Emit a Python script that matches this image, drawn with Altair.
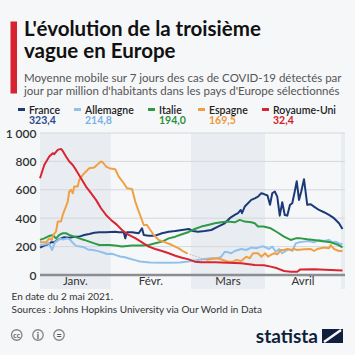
import altair as alt
import pandas as pd

# ---------------- data ----------------
pays = ["France", "Allemagne", "Italie", "Espagne", "Royaume-Uni"]
couleurs = ["#1d3a78", "#8fc1ea", "#2e9a45", "#f0a043", "#d9252f"]
couleurs_valeurs = ["#2a4b8d", "#7ab0e2", "#2e8f42", "#ec9a3e", "#d0202c"]
dernieres_valeurs = ["323,4", "214,8", "194,0", "169,5", "32,4"]

france_jours = [0, 1.7, 3.1, 4.4, 5.7, 7.1, 8.4, 9.7, 11.7, 13.7, 15.7, 17.7, 19.7, 21.7, 23.7, 26.4, 30.1,
                31.5, 33.5, 34.1, 34.8, 36.8, 39.5, 40.8, 41.5, 43.5, 46.1, 48.8, 51.5, 54.1, 56.8, 59.5,
                61.2, 63.2, 65.9, 68.5, 71.2, 73.9, 75.9, 77.9, 79.2, 80.3, 80.8, 81.9, 83.2, 84.5, 85.9,
                87.2, 88.5, 89.6, 91.0, 92.0, 92.9, 93.9, 94.9, 95.9, 96.9, 97.9, 98.9, 100.0, 100.9, 101.9,
                102.7, 103.6, 104.5, 105.6, 106.9, 108.3, 109.6, 111.6, 113.6, 115.6, 117.6, 119.6, 121]
france_cas = [193, 207, 216, 230, 230, 247, 258, 266, 263, 270, 270, 282, 289, 298, 301, 301, 305,
              301, 301, 258, 301, 301, 294, 329, 282, 277, 277, 294, 305, 310, 317, 324,
              310, 305, 310, 317, 341, 364, 400, 423, 435, 458, 435, 482, 505, 529, 540,
              552, 576, 570, 560, 494, 576, 588, 552, 418, 512, 423, 418, 494, 505, 588,
              660, 529, 588, 675, 494, 498, 482, 458, 442, 423, 400, 364, 323.4]

allemagne_jours = [0, 2, 3.6, 4.8, 6, 8, 9.2, 10.8, 12, 13.2, 14.4, 16, 17.6, 19.2, 21.2, 22.8, 24.8, 26.8,
                   28.8, 30.4, 32, 34, 36, 38, 40, 44, 50, 56, 59.2, 63.2, 65.9, 68.5, 71.2, 72.5, 73.9,
                   75.2, 76.5, 77.9, 80.5, 82.5, 84.5, 86.5, 88.5, 89.6, 91.6, 92.9, 94.3, 95.6, 96.9,
                   98.3, 99.6, 100.9, 102.3, 103.6, 105.6, 107.6, 109.6, 111.6, 113.6, 115.6, 116.9,
                   118.3, 119.6, 121]
allemagne_cas = [210, 215, 225, 176, 230, 255, 250, 258, 250, 225, 205, 200, 195, 180, 176, 170, 160, 148,
                 150, 140, 130, 125, 115, 105, 95, 88, 87, 88, 95, 106, 113, 118, 118, 129, 164,
                 160, 153, 169, 183, 176, 193, 188, 200, 200, 183, 200, 164, 183, 153,
                 169, 183, 169, 223, 230, 235, 240, 230, 247, 240, 247, 230,
                 235, 223, 214.8]

italie_jours = [0, 1.7, 3.7, 5.1, 6.4, 7.7, 9.1, 10.4, 11.7, 13.7, 15.7, 17.7, 19.7, 21.7, 23.7, 27.7, 30.1,
                32.8, 36.8, 40.8, 43.5, 46.1, 48.8, 51.5, 54.1, 56.8, 59.5, 61.9, 64.5, 67.2, 69.9, 72.5,
                75.2, 77.9, 79.9, 81.9, 84.5, 85.9, 87.2, 89.4, 92.3, 94.9, 97.6, 100.3, 102.3, 104.3,
                106.9, 109.6, 112.3, 116.3, 118.9, 121]
italie_cas = [247, 258, 275, 282, 258, 282, 294, 294, 282, 270, 258, 247, 235, 223, 211, 211, 207,
              200, 207, 207, 211, 223, 235, 258, 270, 287, 303, 324, 341, 352, 364, 371,
              376, 371, 388, 376, 371, 364, 341, 341, 329, 301, 270, 247, 258, 258,
              251, 247, 240, 230, 215, 194]

# Espagne : deux tronçons, séparés par une période sans données
espagne_jours_a = [0, 2.4, 3.7, 4.7, 5.3, 6.4, 7.1, 8.4, 9.1, 10.1, 11.1, 11.7, 12.4, 13.1, 13.7, 15.1,
                   15.7, 17.1, 18.4, 19.7, 21.7, 23.1, 24.4, 25.1, 26.4, 27.7, 30.1, 31.5, 33.5, 34.8,
                   36.8, 38.1, 39.5, 41.5, 42.8, 44.1, 45.5, 47.5, 50.1, 52.8, 55.5, 57.5, 58.8]
espagne_cas_a = [230, 230, 258, 247, 282, 305, 376, 376, 423, 470, 517, 588, 600, 576, 623, 623,
                 670, 705, 729, 752, 757, 780, 799, 794, 764, 752, 745, 693, 646, 611,
                 606, 517, 447, 352, 352, 317, 282, 247, 230, 211, 188, 164, 153]
espagne_jours_b = [66.5, 68.5, 71.2, 73.2, 75.2, 77.2, 78.5, 80.5, 82.5, 83.9, 85.2, 87.2, 88.5, 90.1,
                   91.2, 92.3, 93.6, 94.9, 96.3, 97.6, 98.9, 100.3, 101.6, 102.9, 105.6, 108.3, 109.6,
                   110.9, 113.6, 115.6, 116.3, 117.6, 119.6, 121]
espagne_cas_b = [106, 113, 118, 106, 94, 94, 106, 99, 129, 118, 153, 153, 129, 153,
                 129, 141, 153, 146, 176, 176, 183, 176, 183, 176, 181, 183, 169,
                 183, 193, 188, 211, 183, 169, 169.5]

ru_jours = [0, 1.7, 3.7, 5.1, 5.7, 7.1, 8.4, 9.1, 10.4, 11.7, 13.1, 14.4, 16.4, 18.4, 20.4, 22.4, 24.4,
            26.4, 28.4, 30.8, 32.8, 35.5, 38.1, 40.8, 43.5, 46.1, 48.8, 51.5, 54.1, 56.8, 59.5, 61.9,
            64.5, 69.9, 75.2, 80.5, 85.9, 89.6, 92.3, 94.9, 97.6, 100.3, 102.9, 104, 109.6, 116.3, 121]
ru_cas = [681, 775, 834, 858, 851, 881, 888, 874, 834, 799, 775, 740, 681, 623, 576, 529, 470,
          423, 388, 353, 317, 282, 259, 230, 200, 183, 169, 153, 136, 122, 110, 94,
          89, 89, 87, 82, 70, 68, 59, 47, 28, 23, 23, 38, 40, 35, 32.4]

mois = ["Janv.", "Févr.", "Mars", "Avril", ""]
mois_debut = [0, 28.3, 60.4, 90.0, 120.4]
mois_fin = [28.3, 60.4, 90.0, 120.4, 122]
mois_ombre = [True, False, True, False, True]

graduations = [0, 200, 400, 600, 800, 1000]

titre = ["L'évolution de la troisième", "vague en Europe"]
sous_titre = ["Moyenne mobile sur 7 jours des cas de COVID-19 détectés par",
              "jour par million d'habitants dans les pays d'Europe sélectionnés"]
note = "En date du 2 mai 2021."
sources = "Sources : Johns Hopkins University via Our World in Data"

# ---------------- tables ----------------
series = [
    ("France", "France", france_jours, france_cas),
    ("Allemagne", "Allemagne", allemagne_jours, allemagne_cas),
    ("Italie", "Italie", italie_jours, italie_cas),
    ("Espagne", "Espagne-a", espagne_jours_a, espagne_cas_a),
    ("Espagne", "Espagne-b", espagne_jours_b, espagne_cas_b),
    ("Royaume-Uni", "Royaume-Uni", ru_jours, ru_cas),
]
rows = []
for p, s, js, vs in series:
    for j, v in zip(js, vs):
        rows.append({"pays": p, "serie": s, "jour": j, "cas": v})
lignes = pd.DataFrame(rows)

trou = pd.DataFrame({"jour": [espagne_jours_a[-1], espagne_jours_b[0]],
                     "cas": [espagne_cas_a[-1], espagne_cas_b[0]]})

bandes = pd.DataFrame({"mois": mois, "debut": mois_debut, "fin": mois_fin, "ombre": mois_ombre})

FONT = "Lato"
W, H = 305, 142
xscale = alt.Scale(domain=[0, 122], nice=False, zero=False)
yscale = alt.Scale(domain=[0, 1000], nice=False)
X_NONE = dict(scale=xscale, axis=None)

layers = []

# month bands
layers.append(
    alt.Chart(bandes).transform_filter("datum.ombre").mark_rect(color="#e9edf2").encode(
        x=alt.X("debut:Q", **X_NONE), x2="fin:Q",
        y=alt.value(0), y2=alt.value(156))
)

# grid (rules) + y axis (styled through config)
layers.append(
    alt.Chart(pd.DataFrame({"v": graduations})).mark_rule(color="#d3d8df", strokeWidth=1).encode(
        y=alt.Y("v:Q", scale=yscale, title=None))
)

# baseline
layers.append(
    alt.Chart(pd.DataFrame({"v": [0]})).mark_rule(color="#8a8e94", strokeWidth=2.5).encode(
        y=alt.Y("v:Q", scale=yscale, title=None))
)

# month labels
layers.append(
    alt.Chart(bandes).transform_filter("datum.mois != ''").transform_calculate(
        centre="(datum.debut + datum.fin) / 2").mark_text(
        font=FONT, fontSize=11.5, color="#333333", baseline="alphabetic").encode(
        x=alt.X("centre:Q", **X_NONE), y=alt.value(152), text="mois:N")
)

# lines
layers.append(
    alt.Chart(lignes).mark_line(strokeWidth=2, strokeJoin="round").encode(
        x=alt.X("jour:Q", **X_NONE),
        y=alt.Y("cas:Q", scale=yscale, title=None),
        color=alt.Color("pays:N", scale=alt.Scale(domain=pays, range=couleurs), legend=None),
        detail="serie:N", order="jour:Q")
)
layers.append(
    alt.Chart(trou).mark_line(strokeWidth=1, strokeDash=[1, 2], color="#c9955a").encode(
        x=alt.X("jour:Q", **X_NONE), y=alt.Y("cas:Q", scale=yscale, title=None))
)


def txt(t, x, y, size, weight="normal", color="#222222", align="left", font=FONT):
    return alt.Chart(pd.DataFrame({"t": [t]})).mark_text(
        font=font, fontSize=size, fontWeight=weight, color=color, align=align,
        baseline="alphabetic").encode(x=alt.value(x), y=alt.value(y), text="t:N")


def rect(x, x2, y, y2, color):
    return alt.Chart(pd.DataFrame({"a": [0]})).mark_rect(color=color).encode(
        x=alt.value(x), x2=alt.value(x2), y=alt.value(y), y2=alt.value(y2))


# header
layers.append(rect(-29.5, -23, -111.5, -39.5, "#d7232f"))
layers.append(txt(titre[0], -16, -97, 20.5, "bold", "#111111"))
layers.append(txt(titre[1], -16, -75, 20.5, "bold", "#111111"))
layers.append(txt(sous_titre[0], -16, -51.5, 11.5, "normal", "#555555"))
layers.append(txt(sous_titre[1], -16, -38.5, 11.5, "normal", "#555555"))

# legend
legende_x = [-11, 45, 119, 169, 233]
for p, c, cv, val, lx in zip(pays, couleurs, couleurs_valeurs, dernieres_valeurs, legende_x):
    layers.append(rect(lx - 11, lx - 4, -25, -22, c))
    layers.append(txt(p, lx, -19.5, 10.5, 600, "#222222"))
    layers.append(txt(val, lx, -9, 10.5, "bold", cv))

# footer
layers.append(txt(note, -28.5, 167, 10, "normal", "#333333"))
layers.append(txt(sources, -28.5, 180, 10, "normal", "#333333"))

for cx, g in zip([-23.3, -2, 19], ["cc", "i", "="]):
    layers.append(alt.Chart(pd.DataFrame({"a": [0]})).mark_point(
        shape="circle", size=110, filled=False, color="#555555", strokeWidth=1.3).encode(
        x=alt.value(cx), y=alt.value(202)))
    layers.append(alt.Chart(pd.DataFrame({"t": [g]})).mark_text(
        font=FONT, fontSize=7 if g == "cc" else 9, fontWeight="bold", color="#555555",
        align="center", baseline="middle").encode(x=alt.value(cx), y=alt.value(202.5), text="t:N"))

layers.append(txt("statista", 278, 210, 19, "bold", "#0f1f3d", "right"))
layers.append(rect(282, 303, 196, 210, "#0f1f3d"))
layers.append(alt.Chart(pd.DataFrame({"a": [0]})).mark_rule(color="#f6f7f9", strokeWidth=2.5).encode(
    x=alt.value(284), x2=alt.value(301), y=alt.value(209), y2=alt.value(197)))

chart = alt.layer(*layers).properties(
    width=W, height=H,
    autosize=alt.AutoSizeParams(type="none"),
    padding={"left": 40, "top": 133, "right": 10, "bottom": 80},
).configure(background="#f6f7f9").configure_view(stroke=None).configure_axisY(
    values=graduations, grid=False, domain=False, ticks=False, labelPadding=4,
    labelFont=FONT, labelFontSize=12, labelFontWeight=600, labelColor="#333333",
    labelExpr="datum.value >= 1000 ? '1 000' : datum.label", title=None)

chart.save("out.html", embed_options={"renderer": "svg", "actions": False})
